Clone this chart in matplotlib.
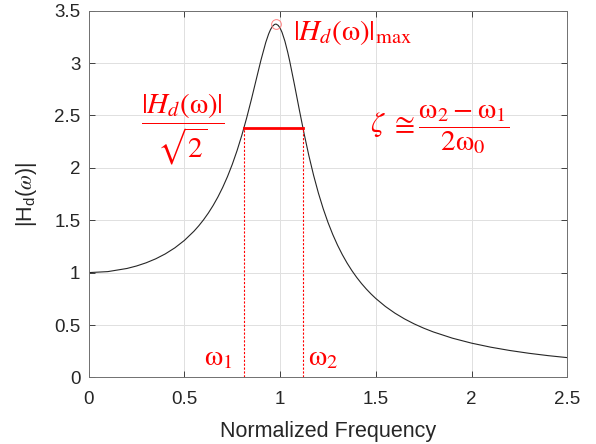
import numpy as np
import matplotlib
matplotlib.use('Agg')
import matplotlib.pyplot as plt

# normalized frequency and |Hd| magnitude
freq = [0.0, 0.1, 0.2, 0.25, 0.3, 0.35, 0.4, 0.45, 0.5, 0.55, 0.575, 0.6, 0.625, 0.65,
        0.675, 0.7, 0.725, 0.75, 0.775, 0.8, 0.825, 0.85, 0.875, 0.9, 0.925, 0.94, 0.95,
        0.96, 0.97, 0.975, 0.98, 0.99, 1.0, 1.01, 1.025, 1.04, 1.05, 1.075, 1.1, 1.125,
        1.15, 1.175, 1.2, 1.225, 1.25, 1.275, 1.3, 1.325, 1.35, 1.375, 1.4, 1.425, 1.45,
        1.475, 1.5, 1.55, 1.6, 1.65, 1.7, 1.75, 1.8, 1.9, 2.0, 2.1, 2.2, 2.3, 2.4, 2.5]
mag = [1.0, 1.0096, 1.0396, 1.0633, 1.0936, 1.1315, 1.1785, 1.2363, 1.3074, 1.3952,
       1.4467, 1.5041, 1.5684, 1.6406, 1.7217, 1.8131, 1.9162, 2.0327, 2.1639, 2.3112,
       2.4749, 2.6534, 2.8416, 3.0289, 3.1968, 3.2778, 3.3198, 3.3503, 3.3677, 3.3711,
       3.3709, 3.3595, 3.3333, 3.2931, 3.2088, 3.1008, 3.0188, 2.7926, 2.5566, 2.3283,
       2.1175, 1.9276, 1.7590, 1.6102, 1.4792, 1.3637, 1.2617, 1.1712, 1.0907, 1.0188,
       0.9543, 0.8962, 0.8437, 0.7961, 0.7527, 0.6768, 0.6127, 0.5580, 0.5108, 0.4699,
       0.4340, 0.3743, 0.3269, 0.2884, 0.2567, 0.2301, 0.2077, 0.1887]

peak_freq = 0.977
peak_mag = 3.371
w1 = 0.812
w2 = 1.119
half_power = peak_mag / np.sqrt(2)

xticks = [0, 0.5, 1, 1.5, 2, 2.5]
xticklabels = ['0', '0.5', '1', '1.5', '2', '2.5']
yticks = [0, 0.5, 1, 1.5, 2, 2.5, 3, 3.5]
yticklabels = ['0', '0.5', '1', '1.5', '2', '2.5', '3', '3.5']

plt.rcParams['font.family'] = ['Liberation Sans', 'DejaVu Sans']
plt.rcParams['mathtext.fontset'] = 'stix'

fig = plt.figure(figsize=(5.96, 4.44), dpi=100)
ax = fig.add_axes([0.1488, 0.150, 0.803, 0.826])

ax.plot(freq, mag, color='#262626', lw=0.8)
ax.plot([peak_freq], [peak_mag], marker='o', ms=7, mfc='none', mec='#ff8080', mew=0.7)
ax.plot([w1, w2], [half_power, half_power], color='#ff0000', lw=2)
ax.plot([w1, w1], [0, half_power], color='#ff0000', lw=0.8, ls=(0, (2, 1.5)))
ax.plot([w2, w2], [0, half_power], color='#ff0000', lw=0.8, ls=(0, (2, 1.5)))

red = '#ff0000'
fs = 21
ax.text(1.067, 3.29, r'$|H_d(\mathrm{\omega})|_{\mathrm{max}}$', color=red, fontsize=fs,
        ha='left', va='center')
ax.text(0.493, 2.37, r'$\dfrac{|H_d(\mathrm{\omega})|}{\sqrt{2}}$', color=red, fontsize=fs,
        ha='center', va='center')
ax.text(1.835, 2.37, r'$\zeta\ \cong \dfrac{\mathrm{\omega}_2-\mathrm{\omega}_1}{2\mathrm{\omega}_0}$',
        color=red, fontsize=fs, ha='center', va='center')
ax.text(0.676, 0.19, r'$\mathrm{\omega}_1$', color=red, fontsize=fs, ha='center', va='center')
ax.text(1.226, 0.19, r'$\mathrm{\omega}_2$', color=red, fontsize=fs, ha='center', va='center')

ax.set_xlim(0, 2.5)
ax.set_ylim(0, 3.5)
ax.set_xticks(xticks)
ax.set_xticklabels(xticklabels)
ax.set_yticks(yticks)
ax.set_yticklabels(yticklabels)
ax.grid(True, color='#e0e0e0', lw=0.7)
ax.set_axisbelow(True)
ax.tick_params(direction='in', top=True, right=True, labelsize=13.5, colors='#262626',
               length=4, width=0.6, pad=6)
ax.tick_params(axis='x', pad=10)
for s in ax.spines.values():
    s.set_color('#707070')
    s.set_linewidth(0.7)

ax.set_xlabel('Normalized Frequency', fontsize=15.5, color='#262626', labelpad=9)
ax.set_ylabel(r'|H$_\mathregular{d}$($\omega$)|', fontsize=15.5, color='#262626', labelpad=11)

fig.savefig('out.png', dpi=100)
